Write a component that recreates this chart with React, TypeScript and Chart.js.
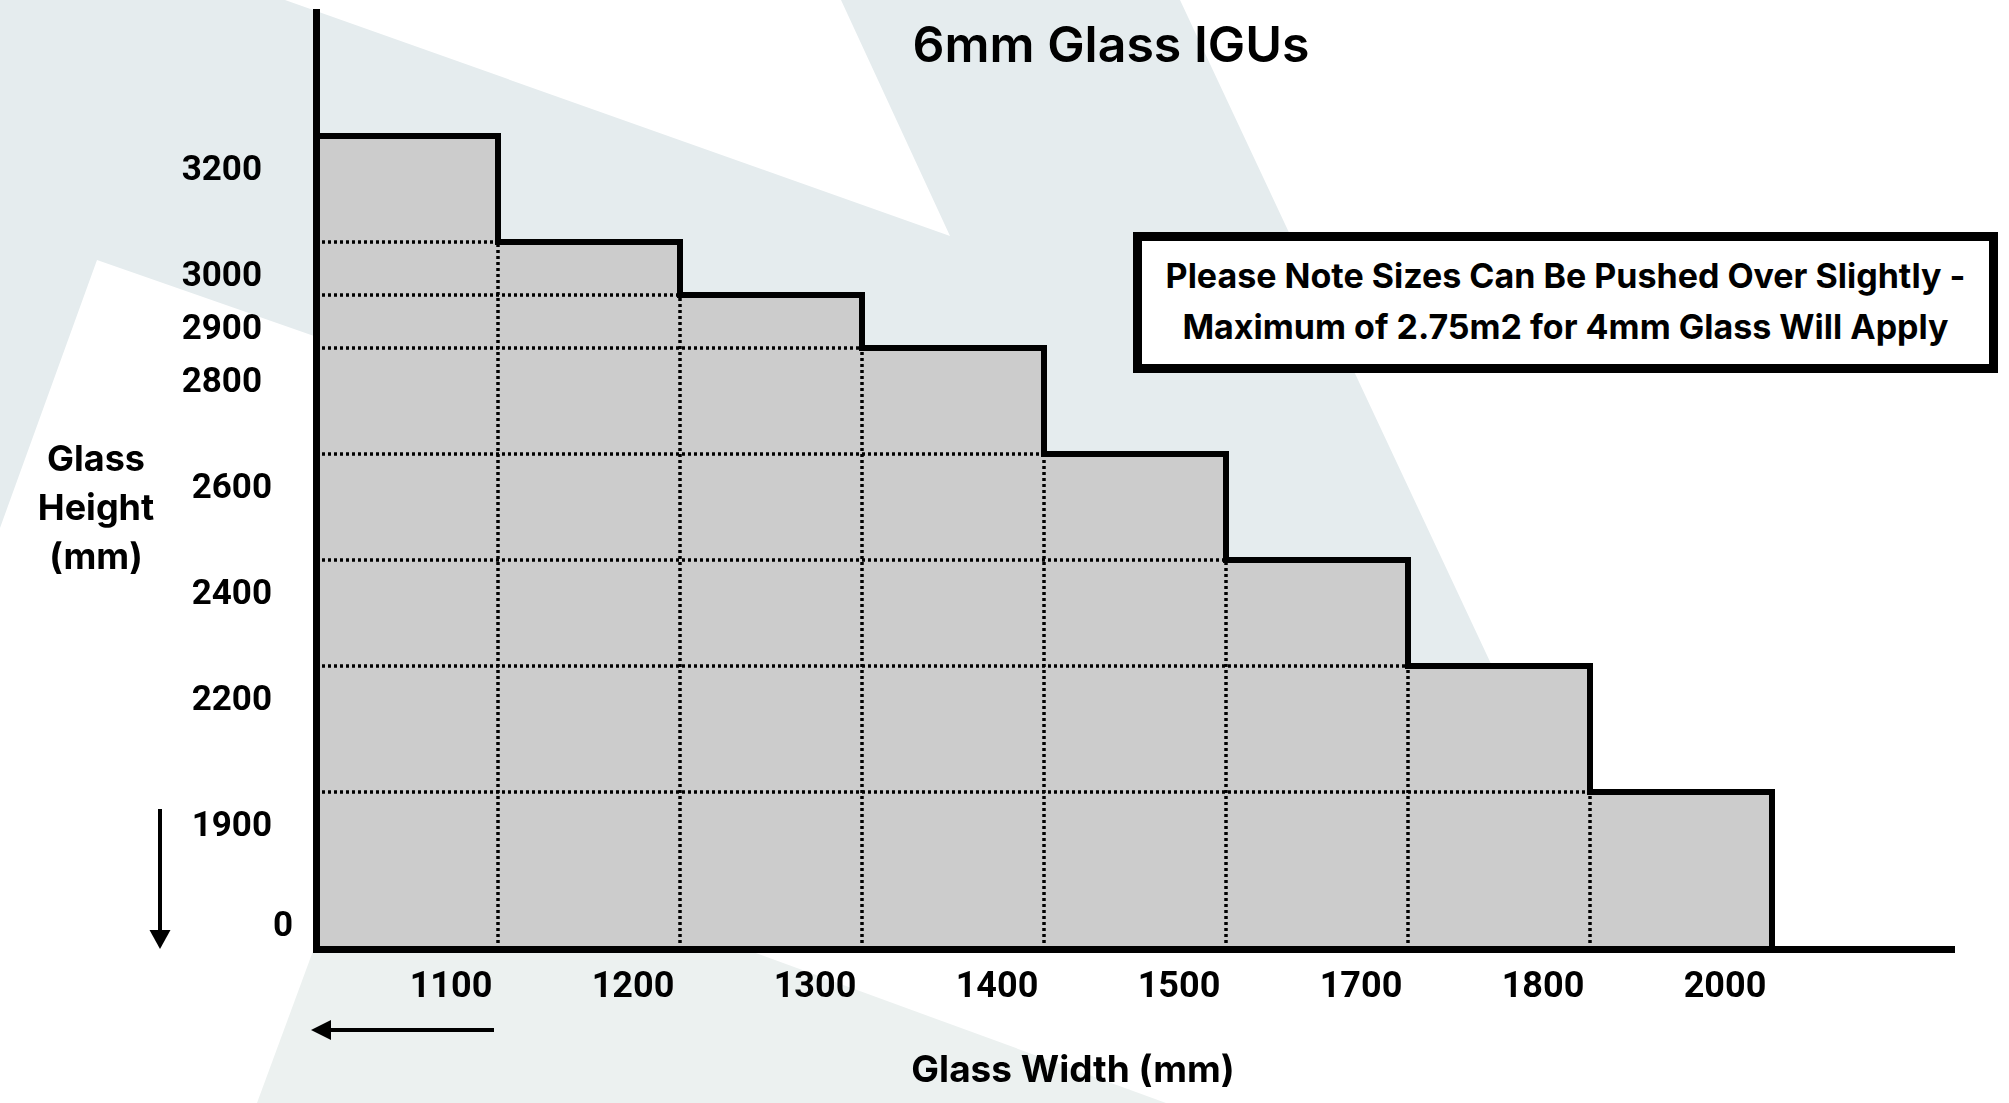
import React, { useEffect, useRef } from 'react';
import { Chart, registerables, LinearScale } from 'chart.js';

Chart.register(...registerables);

// ---------------- data ----------------
const widthLabels: string[] = ['1100', '1200', '1300', '1400', '1500', '1700', '1800', '2000'];
const maxHeights: number[] = [3200, 3000, 2900, 2800, 2600, 2400, 2200, 1900];
const heightTicks: number[] = [0, 1900, 2200, 2400, 2600, 2800, 2900, 3000, 3200];

// ---------------- compressed (broken) height axis ----------------
const axisBreakValues: number[] = [0, 1900, 2200, 3200];
const axisBreakLengths: number[] = [0, 157, 283, 813];
const axisMax = 3434;

function compress(v: number): number {
  const n = axisBreakValues.length;
  let i = 0;
  while (i < n - 2 && v > axisBreakValues[i + 1]) i++;
  const v0 = axisBreakValues[i], v1 = axisBreakValues[i + 1];
  const l0 = axisBreakLengths[i], l1 = axisBreakLengths[i + 1];
  return l0 + ((v - v0) * (l1 - l0)) / (v1 - v0);
}
function expand(l: number): number {
  const n = axisBreakLengths.length;
  let i = 0;
  while (i < n - 2 && l > axisBreakLengths[i + 1]) i++;
  const v0 = axisBreakValues[i], v1 = axisBreakValues[i + 1];
  const l0 = axisBreakLengths[i], l1 = axisBreakLengths[i + 1];
  return v0 + ((l - l0) * (v1 - v0)) / (l1 - l0);
}

// horizontal nudge of each height label (the original artwork is hand-placed)
function labelNudgeX(v: number): number {
  if (v === 0) return 28;
  if (v >= 2800) return -3;
  return 7;
}

class CompressedScale extends LinearScale {
  static id = 'compressed';
  static defaults = LinearScale.defaults;
  getPixelForValue(value: any) {
    if (value === null || value === undefined || isNaN(value)) return NaN;
    const a = compress(this.min);
    const b = compress(this.max);
    return this.getPixelForDecimal((compress(+value) - a) / (b - a));
  }
  getValueForPixel(pixel: number) {
    const a = compress(this.min);
    const b = compress(this.max);
    return expand(a + this.getDecimalForPixel(pixel) * (b - a));
  }
  getPixelForTick(index: number) {
    const t: any = this.ticks[index];
    const base = this.getPixelForValue(t.value);
    // labels sit just below their height line; the zero label sits above the axis
    return base + (t.value === 0 ? -22 : 35);
  }
  _computeLabelItems(chartArea: any) {
    const items: any[] = (super._computeLabelItems as any)(chartArea);
    if (items && items.length === this.ticks.length) {
      items.forEach((item: any, i: number) => {
        const tr = item.options.translation;
        item.options.translation = [tr[0] + labelNudgeX((this.ticks[i] as any).value), tr[1]];
      });
    }
    return items;
  }
}
Chart.register(CompressedScale as any);

const FONT = 'Inter';
const TICK_FONT = 'Roboto';

export default function App() {
  const canvasRef = useRef<HTMLCanvasElement | null>(null);

  useEffect(() => {
    const canvas = canvasRef.current;
    if (!canvas) return;

    const stepPoints = maxHeights
      .map((h, i) => ({ x: i, y: h }))
      .concat([{ x: maxHeights.length, y: 0 }]);

    const dotted: any[] = [];
    for (let i = 1; i < maxHeights.length; i++) {
      const h = maxHeights[i];
      const common = {
        borderColor: '#000000',
        borderWidth: 3.5,
        borderDash: [3, 3],
        borderCapStyle: 'butt',
        pointRadius: 0,
        fill: false,
        order: 1,
      };
      dotted.push({ ...common, label: 'h' + i, data: [{ x: 0, y: h }, { x: i, y: h }] });
      dotted.push({ ...common, label: 'v' + i, data: [{ x: i, y: 0 }, { x: i, y: h }] });
    }

    const chart = new Chart(canvas, {
      type: 'line',
      data: {
        datasets: [
          {
            label: 'outline',
            data: stepPoints,
            stepped: true,
            borderColor: '#000000',
            borderWidth: 6,
            borderJoinStyle: 'miter',
            borderCapStyle: 'butt',
            pointRadius: 0,
            fill: false,
            order: 0,
          },
          ...dotted,
          {
            label: 'area',
            data: stepPoints,
            stepped: true,
            borderColor: 'rgba(0,0,0,0)',
            borderWidth: 0,
            backgroundColor: '#cccccc',
            pointRadius: 0,
            fill: 'origin',
            order: 2,
          },
        ] as any,
      },
      options: {
        responsive: false,
        animation: false,
        devicePixelRatio: 1,
        events: [],
        layout: { padding: { top: 12, right: 55, bottom: 0, left: 0 } },
        plugins: {
          legend: { display: false },
          tooltip: { enabled: false },
          title: { display: false },
        },
        scales: {
          x: {
            type: 'linear',
            min: 0,
            max: 9,
            grid: { display: false, drawTicks: false },
            border: { display: true, color: '#000000', width: 7, z: 1 },
            afterBuildTicks: (scale: any) => {
              scale.ticks = widthLabels.map((_, i) => ({ value: i + 0.5 }));
            },
            afterFit: (scale: any) => {
              scale.height = 154;
              scale.paddingLeft = 0;
              scale.paddingRight = 0;
            },
            ticks: {
              autoSkip: false,
              maxRotation: 0,
              minRotation: 0,
              labelOffset: 44,
              padding: 17,
              color: '#000000',
              font: { family: TICK_FONT, size: 36, weight: 'bold' },
              callback: (_v: any, index: number) => widthLabels[index],
            },
          },
          y: {
            type: 'compressed' as any,
            min: 0,
            max: axisMax,
            grid: { display: false, drawTicks: false },
            border: { display: true, color: '#000000', width: 7, z: 1 },
            afterBuildTicks: (scale: any) => {
              scale.ticks = heightTicks.map((v) => ({ value: v }));
            },
            afterFit: (scale: any) => {
              scale.width = 316;
              scale.paddingTop = 0;
              scale.paddingBottom = 0;
            },
            ticks: {
              autoSkip: false,
              padding: 51,
              color: '#000000',
              font: { family: TICK_FONT, size: 35, weight: 'bold' },
              callback: (v: any) => String(v),
            },
          } as any,
        },
      } as any,
    });

    return () => {
      chart.destroy();
    };
  }, []);

  return (
    <div
      style={{
        position: 'fixed',
        left: 0,
        top: 0,
        width: 2009,
        height: 1103,
        background: '#ffffff',
        overflow: 'hidden',
        fontFamily: FONT,
        color: '#000000',
      }}
    >
      <svg width={2009} height={1103} style={{ position: 'absolute', left: 0, top: 0 }}>
        <polygon points="0,0 285,0 950,236 841,0 1180,0 1538,764 97,260 0,528" fill="#e5ecee" />
        <polygon points="365,810 1166,1103 257,1103" fill="#ecf1f0" />
        <line x1={160} y1={809} x2={160} y2={932} stroke="#000" strokeWidth={4} />
        <polygon points="149.5,930 170.5,930 160,949" fill="#000" />
        <line x1={494} y1={1030} x2={328} y2={1030} stroke="#000" strokeWidth={4} />
        <polygon points="311,1030 331,1020 331,1040" fill="#000" />
      </svg>
      <canvas
        ref={canvasRef}
        width={2009}
        height={1103}
        style={{ position: 'absolute', left: 0, top: 0, width: 2009, height: 1103 }}
      />
      <div
        style={{
          position: 'absolute',
          left: 711,
          width: 800,
          top: 14,
          lineHeight: '60px',
          fontSize: 50,
          fontWeight: 600,
          textAlign: 'center',
        }}
      >
        6mm Glass IGUs
      </div>
      <div
        style={{
          position: 'absolute',
          left: 1133,
          top: 232,
          width: 865,
          height: 141,
          boxSizing: 'border-box',
          border: '9px solid #000',
          background: '#ffffff',
          paddingTop: 8.5,
          textAlign: 'center',
          fontSize: 34,
          fontWeight: 700,
          lineHeight: '51px',
          whiteSpace: 'nowrap',
        }}
      >
        <div>Please Note Sizes Can Be Pushed Over Slightly -</div>
        <div>Maximum of 2.75m2 for 4mm Glass Will Apply</div>
      </div>
      <div
        style={{
          position: 'absolute',
          left: 0,
          width: 192,
          top: 434,
          lineHeight: '49px',
          fontSize: 36,
          fontWeight: 700,
          textAlign: 'center',
        }}
      >
        Glass
        <br />
        Height
        <br />
        (mm)
      </div>
      <div
        style={{
          position: 'absolute',
          left: 873,
          width: 400,
          top: 1044,
          lineHeight: '50px',
          fontSize: 37,
          fontWeight: 700,
          textAlign: 'center',
          whiteSpace: 'nowrap',
        }}
      >
        Glass Width (mm)
      </div>
    </div>
  );
}
